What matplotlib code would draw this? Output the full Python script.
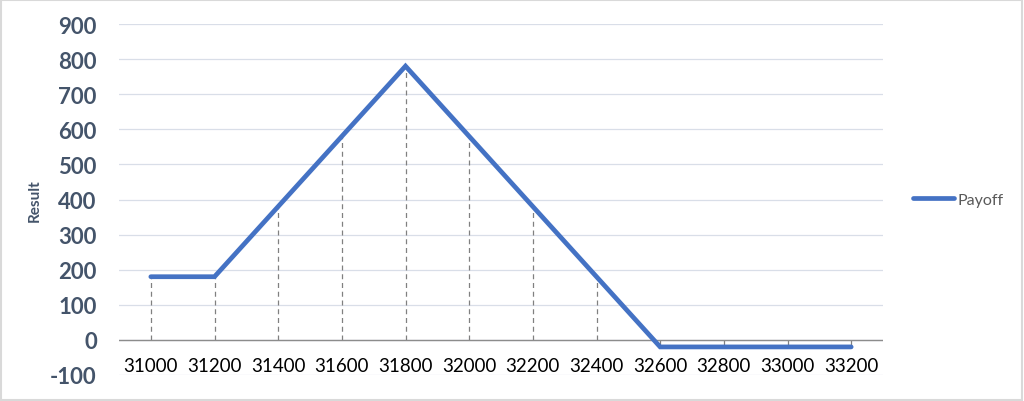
import matplotlib
matplotlib.use("Agg")
import matplotlib.pyplot as plt

# Payoff data
strikes = ["31000", "31200", "31400", "31600", "31800", "32000",
           "32200", "32400", "32600", "32800", "33000", "33200"]
payoff = [180, 180, 380, 580, 780, 580, 380, 180, -20, -20, -20, -20]
y_ticks = [-100, 0, 100, 200, 300, 400, 500, 600, 700, 800, 900]

plt.rcParams["font.family"] = ["Lato", "DejaVu Sans"]

fig = plt.figure(figsize=(10.24, 4.02), dpi=100)
ax = fig.add_axes([119 / 1024, 26 / 402, 764 / 1024, 351 / 402])

x = list(range(len(strikes)))

# drop lines
for xi, yi in zip(x, payoff):
    ax.plot([xi, xi], [0, yi], color="#808080", lw=0.9, ls=(0, (4, 3)), zorder=2)

ax.plot(x, payoff, color="#4472C4", lw=3.4, solid_capstyle="round",
        solid_joinstyle="miter", label="Payoff", zorder=3)

ax.set_xlim(-0.5, len(strikes) - 0.5)
ax.set_ylim(-100, 900)
ax.set_yticks(y_ticks)
ax.set_yticklabels([str(v) for v in y_ticks], fontsize=16, fontweight="bold",
                   color="#44546A")
ax.grid(axis="y", color="#D9DEE8", lw=0.9)
ax.set_axisbelow(True)
ax.axhline(0, color="#8C8C8C", lw=1.0, zorder=2)

# category labels sit between the 0 line and the -100 gridline
ax.set_xticks([])
for xi, s in zip(x, strikes):
    ax.text(xi, -72, s, ha="center", va="center", fontsize=13.5, color="#000000")
ax.tick_params(axis="y", length=0, pad=16)

for s in ax.spines.values():
    s.set_visible(False)

ax.set_ylabel("Result", fontsize=11, fontweight="bold", color="#44546A",
              labelpad=6)

ax.legend(loc="center left", bbox_to_anchor=(1.02, 0.5), frameon=False,
          fontsize=11.5, labelcolor="#595959", handlelength=2.6,
          handletextpad=0.2)

fig.patches.append(plt.Rectangle((0.001, 0.002), 0.997, 0.995,
                                 transform=fig.transFigure, fill=False,
                                 edgecolor="#D9D9D9", lw=1.5))

fig.savefig("out.png", dpi=100)
